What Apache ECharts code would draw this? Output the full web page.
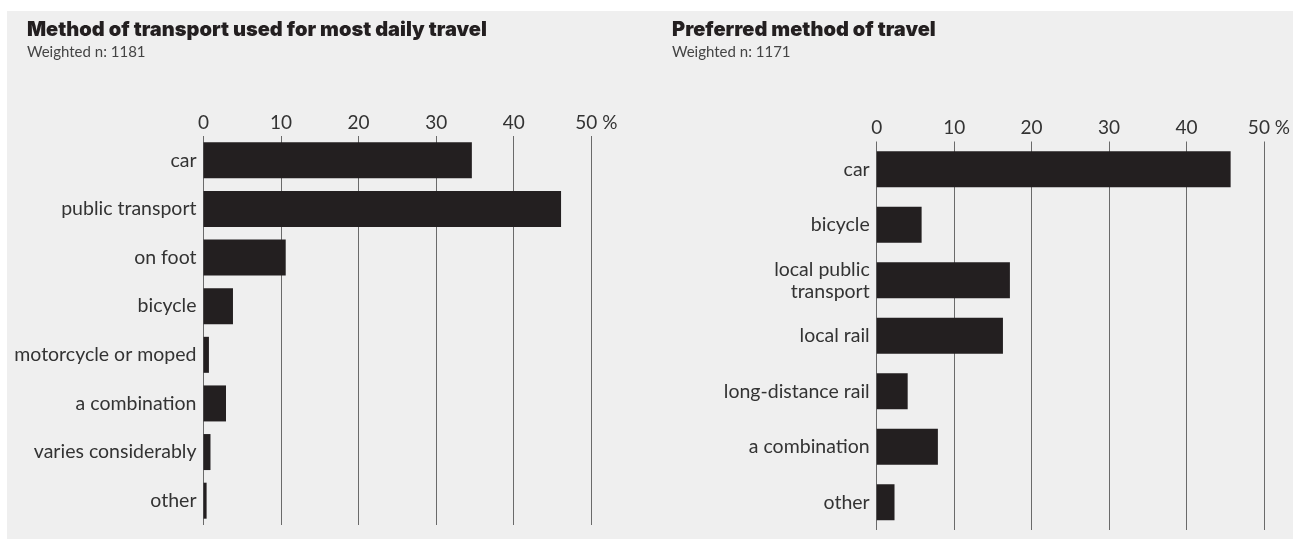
<!DOCTYPE html>
<html>
<head>
<meta charset="utf-8">
<script src="https://cdn.jsdelivr.net/npm/echarts@6/dist/echarts.min.js"></script>
<style>
html,body{margin:0;padding:0;background:#fff;}
#chart{width:1293px;height:539px;}
</style>
</head>
<body>
<div id="chart"></div>
<script>
// ---- data ----
const leftTitle = 'Method of transport used for most daily travel';
const leftSubtitle = 'Weighted n: 1181';
const leftCategories = ['car', 'public transport', 'on foot', 'bicycle', 'motorcycle or moped', 'a combination', 'varies considerably', 'other'];
const leftValues = [34.6, 46.1, 10.6, 3.8, 0.7, 2.9, 0.9, 0.4];

const rightTitle = 'Preferred method of travel';
const rightSubtitle = 'Weighted n: 1171';
const rightCategories = ['car', 'bicycle', 'local public\ntransport', 'local rail', 'long-distance rail', 'a combination', 'other'];
const rightValues = [45.7, 5.8, 17.2, 16.3, 4.0, 7.9, 2.3];

const tickValues = [0, 10, 20, 30, 40, 50];
const tickLabels = ['0', '10', '20', '30', '40', '50 %'];

// ---- styles ----
const FONT = 'Lato';
const TITLE_FONT = 'Inter';
const BAR = '#231f20';
const TEXT = '#333333';
const GRIDLINE = '#6a6a6a';

function tickFormatter(v) {
  const i = tickValues.indexOf(v);
  const t = i >= 0 ? tickLabels[i] : String(v);
  return i === tickValues.length - 1 ? '{last|' + t + '}' : t;
}

function xAxisFor(gridIndex) {
  return {
    gridIndex: gridIndex,
    type: 'value',
    position: 'top',
    min: tickValues[0],
    max: tickValues[tickValues.length - 1],
    interval: tickValues[1] - tickValues[0],
    axisLine: { show: false },
    axisTick: { show: false },
    axisLabel: {
      margin: 4,
      color: TEXT,
      fontFamily: FONT,
      fontSize: 19,
      formatter: tickFormatter,
      rich: { last: { color: TEXT, fontFamily: FONT, fontSize: 19, padding: [0, 0, 0, 10] } }
    },
    splitLine: { show: true, lineStyle: { color: GRIDLINE, width: 1 } }
  };
}

function yAxisFor(gridIndex, cats) {
  return {
    gridIndex: gridIndex,
    type: 'category',
    data: cats,
    inverse: true,
    axisLine: { show: false },
    axisTick: { show: false },
    axisLabel: {
      margin: 7,
      color: TEXT,
      fontFamily: FONT,
      fontSize: 19.5,
      lineHeight: 22,
      align: 'right'
    }
  };
}

const chart = echarts.init(document.getElementById('chart'), null, { renderer: 'canvas' });
chart.setOption({
  backgroundColor: '#ffffff',
  animation: false,
  graphic: [{
    type: 'rect',
    left: 7, top: 11,
    shape: { width: 1286, height: 528 },
    style: { fill: '#efefef' },
    z: -10
  }],
  title: [
    { text: leftTitle, left: 27, top: 20, padding: 0,
      textStyle: { fontFamily: TITLE_FONT, fontWeight: 900, fontSize: 20, color: BAR } },
    { text: leftSubtitle, left: 27, top: 45, padding: 0,
      textStyle: { fontFamily: FONT, fontWeight: 'normal', fontSize: 15, color: '#444' } },
    { text: rightTitle, left: 672, top: 20, padding: 0,
      textStyle: { fontFamily: TITLE_FONT, fontWeight: 900, fontSize: 20, color: BAR } },
    { text: rightSubtitle, left: 672, top: 45, padding: 0,
      textStyle: { fontFamily: FONT, fontWeight: 'normal', fontSize: 15, color: '#444' } }
  ],
  grid: [
    { left: 203.5, right: 1293 - 591.3, top: 136, bottom: 539 - 525, containLabel: false },
    { left: 876.7, right: 1293 - 1264.3, top: 141.5, bottom: 539 - 530, containLabel: false }
  ],
  xAxis: [xAxisFor(0), xAxisFor(1)],
  yAxis: [yAxisFor(0, leftCategories), yAxisFor(1, rightCategories)],
  series: [
    { type: 'bar', xAxisIndex: 0, yAxisIndex: 0, data: leftValues, barWidth: 36,
      itemStyle: { color: BAR }, silent: true },
    { type: 'bar', xAxisIndex: 1, yAxisIndex: 1, data: rightValues, barWidth: 36,
      itemStyle: { color: BAR }, silent: true }
  ]
});
</script>
</body>
</html>
